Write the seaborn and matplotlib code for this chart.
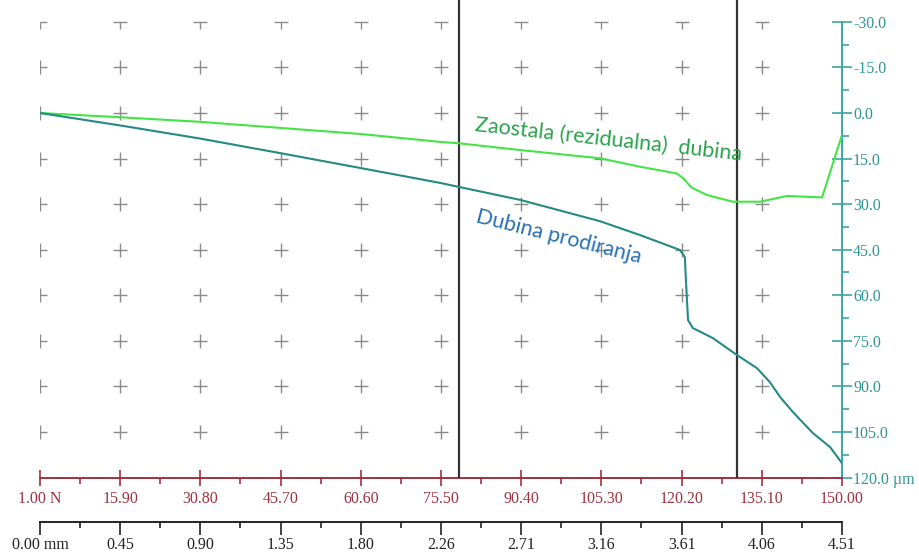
import numpy as np
import pandas as pd
import matplotlib
matplotlib.use("Agg")
import matplotlib.pyplot as plt
import seaborn as sns

# force ticks (N) and the matching depth scale (mm)
force_ticks = [1.00, 15.90, 30.80, 45.70, 60.60, 75.50, 90.40, 105.30, 120.20, 135.10, 150.00]
force_labels = ["1.00 N", "15.90", "30.80", "45.70", "60.60", "75.50", "90.40",
                "105.30", "120.20", "135.10", "150.00"]
mm_labels = ["0.00 mm", "0.45", "0.90", "1.35", "1.80", "2.26", "2.71",
             "3.16", "3.61", "4.06", "4.51"]
depth_ticks = [-30, -15, 0, 15, 30, 45, 60, 75, 90, 105, 120]
depth_labels = ["-30.0", "-15.0", "0.0", "15.0", "30.0", "45.0", "60.0",
                "75.0", "90.0", "105.0", "120.0 \u00b5m"]

# penetration depth (Dubina prodiranja)
pen_force = [1.0, 15.9, 30.7, 45.6, 60.5, 75.3, 79.0, 90.2, 105.0, 112.5, 119.9,
             120.8, 121.0, 121.2, 121.4, 122.3, 126.0, 130.5, 134.2, 136.6,
             138.5, 140.9, 144.6, 147.8, 150.0]
pen_depth = [0.0, 4.1, 8.4, 13.2, 18.1, 23.0, 24.4, 28.6, 35.6, 40.2, 45.1,
             47.4, 55.0, 61.6, 68.2, 70.8, 74.1, 79.7, 84.0, 88.6,
             93.5, 98.5, 105.4, 110.0, 115.3]

# residual depth (Zaostala dubina)
res_force = [1.0, 15.9, 30.7, 45.6, 60.5, 75.3, 79.0, 90.2, 105.0, 112.5, 119.3,
             120.5, 122.0, 124.9, 129.7, 134.8, 139.8, 146.3, 150.0]
res_depth = [0.0, 1.4, 2.9, 4.9, 6.9, 9.5, 10.0, 12.2, 14.9, 17.7, 19.9,
             21.5, 24.5, 27.0, 29.2, 29.2, 27.3, 27.8, 7.2]

markers_force = [78.9, 130.5]

pen = pd.DataFrame({"force": pen_force, "depth": pen_depth})
res = pd.DataFrame({"force": res_force, "depth": res_depth})

sns.set_style("white")
plt.rcParams['font.family'] = ['Liberation Serif', 'DejaVu Serif']

red = "#a3303f"
teal = "#3aa6a6"
grey = "#8a8a8a"

fig = plt.figure(figsize=(9.19, 5.52), dpi=100)
ax = fig.add_axes([40 / 919, 1 - 477.5 / 552, 802 / 919, 477.5 / 552])

ax.set_xlim(1.0, 150.0)
ax.set_ylim(120, -37.2)

# grid of plus signs
for f in force_ticks[:-1]:
    for d in depth_ticks[:-1]:
        if f == force_ticks[0] and d == depth_ticks[0]:
            ax.plot(f, d, marker=1, ms=5, color=grey, mew=1)
            ax.plot(f, d, marker=3, ms=5, color=grey, mew=1)
        elif f == force_ticks[0]:
            ax.plot(f, d, marker="|", ms=10, color=grey, mew=1)
            ax.plot(f, d, marker=1, ms=5, color=grey, mew=1)
        elif d == depth_ticks[0]:
            ax.plot(f, d, marker="_", ms=10, color=grey, mew=1)
            ax.plot(f, d, marker=3, ms=5, color=grey, mew=1)
        else:
            ax.plot(f, d, marker="+", ms=10, color=grey, mew=1)

for f in markers_force:
    ax.axvline(f, color="#333333", lw=1.6, zorder=3)

sns.lineplot(data=res, x="force", y="depth", sort=False, estimator=None,
             color="#44e444", lw=1.5, ax=ax, zorder=4)
sns.lineplot(data=pen, x="force", y="depth", sort=False, estimator=None,
             color="#258a86", lw=1.5, ax=ax, zorder=4)

ax.text(106.6, 8.9, "Zaostala (rezidualna)  dubina", color="#2aa34c",
        fontsize=15.5, family=["Lato", "DejaVu Sans"], rotation=-6.3,
        rotation_mode="anchor", ha="center", va="center")
ax.text(97.4, 40.8, "Dubina prodiranja", color="#2a70b3",
        fontsize=15.5, family=["Lato", "DejaVu Sans"], rotation=-14,
        rotation_mode="anchor", ha="center", va="center")

ax.set_xlabel("")
ax.set_ylabel("")

# bottom red force axis
ax.spines["top"].set_visible(False)
ax.spines["left"].set_visible(False)
ax.spines["bottom"].set_color(red)
ax.spines["bottom"].set_linewidth(1.4)
ax.set_xticks(force_ticks)
ax.set_xticklabels(force_labels)
ax.set_xticks([(a + b) / 2 for a, b in zip(force_ticks[:-1], force_ticks[1:])], minor=True)
ax.tick_params(axis="x", which="major", direction="inout", length=12, width=1.2,
               colors=red, labelsize=11.5, pad=4)
ax.tick_params(axis="x", which="minor", direction="out", length=4, width=1.2, colors=red)

# right teal depth axis
ax.yaxis.tick_right()
ax.spines["right"].set_color(teal)
ax.spines["right"].set_linewidth(1.4)
ax.spines["right"].set_bounds(-30, 120)
ax.set_yticks(depth_ticks)
ax.set_yticklabels(depth_labels)
ax.set_yticks([d + 7.5 for d in depth_ticks[:-1]], minor=True)
ax.tick_params(axis="y", which="major", direction="inout", length=14, width=1.2,
               colors=teal, labelsize=11.5, pad=1)
ax.tick_params(axis="y", which="minor", direction="out", length=5, width=1.2, colors=teal)
for lab in ax.get_yticklabels():
    lab.set_color("#2c9696")

# second black mm axis
ax2 = ax.twiny()
ax2.set_xlim(ax.get_xlim())
ax2.xaxis.set_ticks_position("bottom")
ax2.xaxis.set_label_position("bottom")
for s in ["top", "left", "right"]:
    ax2.spines[s].set_visible(False)
ax2.spines["bottom"].set_position(("outward", 44 * 0.72))
ax2.spines["bottom"].set_color("#222222")
ax2.spines["bottom"].set_linewidth(1.4)
ax2.set_xticks(force_ticks)
ax2.set_xticklabels(mm_labels)
ax2.set_xticks([(a + b) / 2 for a, b in zip(force_ticks[:-1], force_ticks[1:])], minor=True)
ax2.tick_params(axis="x", which="major", direction="out", length=9, width=1.2,
                colors="#222222", labelsize=11.5, pad=2)
ax2.tick_params(axis="x", which="minor", direction="out", length=4, width=1.2, colors="#222222")

fig.savefig("out.png", dpi=100)
